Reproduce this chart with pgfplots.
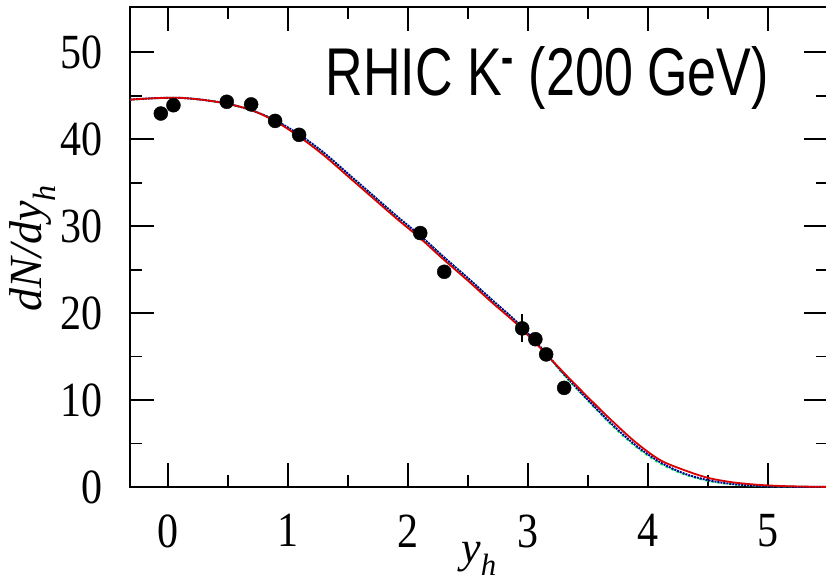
\documentclass[border=0pt]{standalone}
\usepackage{pgfplots}
\pgfplotsset{compat=1.18}
\usepackage{fontspec}
\setmainfont{Liberation Serif}
\newfontfamily\arial{Liberation Sans}
\begin{document}
\begin{tikzpicture}
\begin{axis}[name=ax, scale only axis, width=698pt, height=480pt,
  xmin=-0.32, xmax=5.5, ymin=0, ymax=55.2,
  xtick={0,1,2,3,4,5}, minor x tick num=1,
  ytick={0,10,20,30,40,50}, minor y tick num=1,
  tick align=inside, major tick length=24pt, minor tick length=12pt,
  every tick/.style={black, line width=1.8pt},
  axis line style={line width=2.2pt},
  /pgf/number format/assume math mode=true,
  ticklabel style={font=\fontsize{42}{48}\selectfont, yscale=1.17},
  xticklabel style={yshift=-20pt},
  yticklabel style={xshift=-24pt},
  xlabel={\itshape y\textsubscript{h}},
  ylabel={\itshape dN/dy\textsubscript{h}},
  xlabel style={at={(axis description cs:0.5,0)}, anchor=center, yshift=-72pt, font=\fontsize{44}{50}\selectfont},
  ylabel style={at={(axis description cs:-0.140,0.498)}, anchor=center, font=\fontsize{46}{52}\selectfont},
  clip=true]
% green dashed
\addplot[smooth, color=green!70!cyan, line width=1.8pt, dashed] coordinates {
(-0.32,44.55) (-0.1,44.72) (0.1,44.75) (0.3,44.5) (0.5,44.05) (0.7,43.3) (0.9,42.1)
(1.1,40.4) (1.3,38.35) (1.5,35.95) (1.7,33.55) (1.9,31.15) (2.1,28.85) (2.3,26.35)
(2.5,23.95) (2.7,21.45) (2.9,19.0) (3.1,16.1) (3.3,12.85) (3.5,9.9) (3.7,7.05)
(3.9,4.6) (4.1,2.7) (4.3,1.45) (4.5,0.7) (4.7,0.3) (4.9,0.12) (5.1,0.04) (5.3,0.01) (5.5,0)};
% blue dotted
\addplot[smooth, color=blue!60!black, line width=2pt, densely dotted] coordinates {
(-0.32,44.55) (-0.1,44.72) (0.1,44.75) (0.3,44.5) (0.5,44.05) (0.7,43.3) (0.9,42.1)
(1.1,40.45) (1.3,38.4) (1.5,36.0) (1.7,33.6) (1.9,31.2) (2.1,28.9) (2.3,26.4)
(2.5,24.0) (2.7,21.5) (2.9,19.05) (3.1,16.15) (3.3,12.95) (3.5,10.0) (3.7,7.2)
(3.9,4.75) (4.1,2.85) (4.3,1.55) (4.5,0.78) (4.7,0.35) (4.9,0.15) (5.1,0.05) (5.3,0.02) (5.5,0)};
% red solid
\addplot[smooth, color=red!85!black, line width=1.8pt] coordinates {
(-0.32,44.55) (-0.1,44.72) (0.1,44.75) (0.3,44.5) (0.5,44.05) (0.7,43.3) (0.9,42.0)
(1.1,40.2) (1.3,38.1) (1.5,35.7) (1.7,33.3) (1.9,30.9) (2.1,28.6) (2.3,26.1)
(2.5,23.7) (2.7,21.2) (2.9,18.8) (3.1,16.0) (3.3,13.1) (3.5,10.3) (3.7,7.6)
(3.9,5.1) (4.1,3.1) (4.3,1.95) (4.5,1.05) (4.7,0.55) (4.9,0.27) (5.1,0.12) (5.3,0.05) (5.5,0.01)};
% data
\addplot[only marks, mark=*, mark size=7pt, black,
  error bars/.cd, y dir=both, y explicit, error bar style={line width=1.6pt, black}, error mark=none]
  table[x=x, y=y, y error=e] {
x y e
-0.063 42.95 0
0.042 43.9 0
0.487 44.3 0
0.69 44.0 0
0.89 42.1 0
1.09 40.5 0
2.10 29.2 0
2.30 24.75 0
2.95 18.24 1.6
3.06 17.0 0
3.15 15.25 0
3.30 11.4 0
};
\node[anchor=base west, yscale=1.3, font=\arial\fontsize{52}{60}\selectfont, inner sep=0pt] at (axis cs:1.31,45.0) {RHIC K\textsuperscript{\raisebox{8pt}{\textbf{-}}} (200 GeV)};
\end{axis}
\pgfresetboundingbox
\path ([xshift=-130pt,yshift=-95pt]ax.south west) rectangle ([xshift=-2pt,yshift=7pt]ax.north east);
\end{tikzpicture}
\end{document}
